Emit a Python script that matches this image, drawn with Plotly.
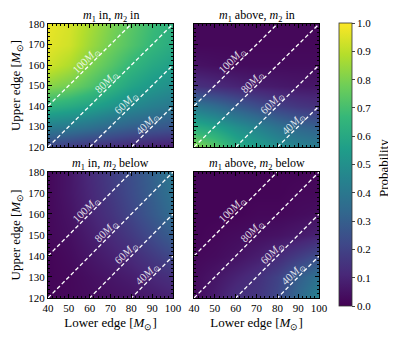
import plotly.graph_objects as go

# grid of the lower / upper edge of the mass gap
lower_edge = [40, 50, 60, 70, 80, 90, 100]
upper_edge = [120, 130, 140, 150, 160, 170, 180]

# probabilities, rows follow upper_edge (bottom to top)
p_in_in = [
    [0.20, 0.17, 0.14, 0.12, 0.10, 0.08, 0.07],
    [0.42, 0.40, 0.37, 0.33, 0.30, 0.28, 0.26],
    [0.64, 0.61, 0.57, 0.52, 0.47, 0.43, 0.40],
    [0.82, 0.78, 0.72, 0.65, 0.58, 0.53, 0.49],
    [0.93, 0.88, 0.80, 0.73, 0.66, 0.60, 0.56],
    [0.96, 0.93, 0.85, 0.78, 0.72, 0.66, 0.61],
    [0.97, 0.94, 0.87, 0.80, 0.74, 0.68, 0.63],
]
p_above_in = [
    [0.82, 0.74, 0.62, 0.56, 0.50, 0.45, 0.42],
    [0.62, 0.57, 0.50, 0.44, 0.38, 0.33, 0.30],
    [0.40, 0.35, 0.29, 0.24, 0.19, 0.16, 0.14],
    [0.14, 0.12, 0.10, 0.08, 0.07, 0.06, 0.06],
    [0.05, 0.04, 0.03, 0.03, 0.03, 0.03, 0.03],
    [0.02, 0.02, 0.02, 0.02, 0.02, 0.02, 0.02],
    [0.02, 0.02, 0.02, 0.02, 0.02, 0.02, 0.02],
]
p_in_below = [
    [0.01, 0.02, 0.03, 0.04, 0.05, 0.07, 0.09],
    [0.01, 0.02, 0.04, 0.06, 0.08, 0.11, 0.14],
    [0.01, 0.03, 0.06, 0.09, 0.12, 0.17, 0.22],
    [0.02, 0.04, 0.08, 0.12, 0.17, 0.23, 0.30],
    [0.02, 0.05, 0.10, 0.15, 0.21, 0.28, 0.35],
    [0.02, 0.06, 0.11, 0.17, 0.23, 0.30, 0.38],
    [0.02, 0.06, 0.12, 0.18, 0.24, 0.31, 0.40],
]
p_above_below = [
    [0.03, 0.08, 0.14, 0.16, 0.22, 0.34, 0.45],
    [0.03, 0.06, 0.10, 0.14, 0.20, 0.30, 0.38],
    [0.02, 0.03, 0.05, 0.08, 0.12, 0.18, 0.24],
    [0.01, 0.02, 0.03, 0.04, 0.05, 0.07, 0.10],
    [0.01, 0.01, 0.01, 0.02, 0.02, 0.03, 0.04],
    [0.01, 0.01, 0.01, 0.01, 0.01, 0.02, 0.02],
    [0.01, 0.01, 0.01, 0.01, 0.01, 0.01, 0.02],
]

panel_titles = [
    "<i>m</i><sub>1</sub> in, <i>m</i><sub>2</sub> in",
    "<i>m</i><sub>1</sub> above, <i>m</i><sub>2</sub> in",
    "<i>m</i><sub>1</sub> in, <i>m</i><sub>2</sub> below",
    "<i>m</i><sub>1</sub> above, <i>m</i><sub>2</sub> below",
]
panels = [p_in_in, p_above_in, p_in_below, p_above_below]

# gap widths drawn as dashed lines (upper - lower)
gap_widths = [100, 80, 60, 40]
label_x = [60, 69.5, 79, 89]

FONT = "Liberation Serif"

fig = go.Figure()

# the page body adds an 8px margin, so the figure is 388 x 331
# plot area is 338 x 274 px (margins l=40, r=10, t=16, b=41)
x_dom = [[0, 0.370], [0.432, 0.802]]
y_dom = [[0.551, 1], [0, 0.460]]

for i, z in enumerate(panels):
    n = "" if i == 0 else str(i + 1)
    xa, ya = "x" + n, "y" + n
    fig.add_trace(go.Heatmap(
        x=lower_edge, y=upper_edge, z=z, coloraxis="coloraxis",
        zsmooth="best", xaxis=xa, yaxis=ya, hoverinfo="skip",
    ))
    for w, lx in zip(gap_widths, label_x):
        fig.add_trace(go.Scatter(
            x=[lower_edge[0], lower_edge[-1]], y=[lower_edge[0] + w, lower_edge[-1] + w],
            mode="lines", line=dict(color="white", width=1.3, dash="4px,2.5px"),
            xaxis=xa, yaxis=ya, showlegend=False, hoverinfo="skip",
        ))
        fig.add_annotation(
            x=lx - 1.3, y=lx + w + 2.3, xref=xa, yref=ya,
            text=f"{w}<i>M</i><sub>⊙</sub>", showarrow=False, textangle=-45,
            font=dict(family=FONT, size=11, color="rgba(255,255,255,0.85)"),
        )
    row, col = divmod(i, 2)
    ax_common = dict(
        ticks="inside", ticklen=4, tickwidth=0.8, tickcolor="black",
        showline=True, linecolor="black", linewidth=1, mirror="allticks",
        showgrid=False, zeroline=False, automargin=False,
        tickfont=dict(family=FONT, size=11, color="black"),
        minor=dict(ticks="inside", ticklen=2, tickwidth=0.6, tickcolor="black", dtick=2),
    )
    fig.layout["xaxis" + n] = dict(
        ax_common, domain=x_dom[col], anchor=ya, range=[40, 100], dtick=10,
        showticklabels=(row == 1),
        title=dict(text="Lower edge [<i>M</i><sub>⊙</sub>]", standoff=4,
                   font=dict(family=FONT, size=13, color="black")) if row == 1 else None,
    )
    fig.layout["yaxis" + n] = dict(
        ax_common, domain=y_dom[row], anchor=xa, range=[120, 180], dtick=10,
        showticklabels=(col == 0),
        title=dict(text="Upper edge [<i>M</i><sub>⊙</sub>]", standoff=4,
                   font=dict(family=FONT, size=13, color="black")) if col == 0 else None,
    )
    fig.add_annotation(
        x=sum(x_dom[col]) / 2, y=y_dom[row][1], xref="paper", yref="paper",
        yanchor="bottom", xanchor="center", showarrow=False, yshift=-2,
        text=panel_titles[i], font=dict(family=FONT, size=12, color="black"),
    )

# colorbar title as a free annotation (sits further from the tick labels)
fig.add_annotation(
    x=0.991, y=0.474, xref="paper", yref="paper", xanchor="center", yanchor="middle",
    text="Probability", textangle=-90, showarrow=False,
    font=dict(family=FONT, size=13, color="black"),
)

fig.update_layout(
    width=388, height=331,
    margin=dict(l=40, r=10, t=16, b=41),
    paper_bgcolor="white", plot_bgcolor="white",
    showlegend=False,
    coloraxis=dict(
        colorscale="Viridis", cmin=0, cmax=1,
        colorbar=dict(
            x=0.861, xanchor="left", y=0.487, yanchor="middle",
            len=1.033, lenmode="fraction", thickness=13, ypad=0, xpad=0,
            outlinewidth=0.8, outlinecolor="#333",
            tickmode="linear", tick0=0, dtick=0.1, tickformat=".1f",
            ticks="outside", ticklen=3, tickwidth=0.8,
            tickfont=dict(family=FONT, size=11, color="black"),
        ),
    ),
)

fig.write_html("out.html")
